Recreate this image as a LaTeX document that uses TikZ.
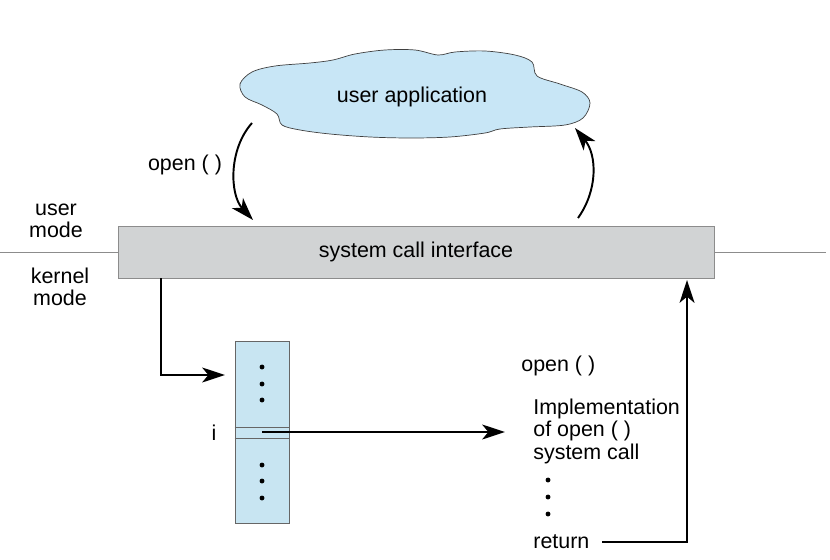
\documentclass[tikz,border=0pt]{standalone}
\usepackage{fontspec}
\setmainfont{Liberation Sans}
\usetikzlibrary{arrows.meta}

\definecolor{cloudblue}{HTML}{C8E6F6}
\definecolor{tableblue}{HTML}{C8E5F2}
\definecolor{boxgray}{HTML}{D1D3D4}
\definecolor{edgegray}{HTML}{8C8C8C}

\tikzset{
  arr/.style={-{Stealth[length=13pt,width=8.5pt,inset=3.5pt]}, line width=1.1pt},
  txt/.style={inner sep=0pt, font=\fontsize{12.2}{12.8}\selectfont},
  dot/.style={circle, fill, inner sep=0pt, minimum size=2.8pt}
}

\begin{document}
\begin{tikzpicture}[x=0.02cm, y=-0.02cm]
\useasboundingbox (0,0) rectangle (830,560);
% user side
\draw[black!75, fill=cloudblue] plot[smooth cycle, tension=0.55] coordinates {
  (240,84) (252,72) (275,66) (310,63) (333,60) (355,54) (385,50) (415,50)
  (438,55) (455,52) (485,51) (515,55) (532,62) (537,76) (560,84) (582,92)
  (590,103) (583,118) (565,125) (530,127) (500,129) (485,133) (450,137)
  (410,138) (370,137) (330,134) (300,130) (282,125) (277,114) (262,105)
  (245,97)};
\node[txt] (app) at (412,97) {user application};
\node[draw=edgegray, fill=boxgray, minimum width=11.92cm, minimum height=1.04cm, txt]
  (sci) at (416,252) {system call interface};
\coordinate (ml) at (0,252);
\coordinate (mr) at (826,252);
\draw[edgegray] (ml) -- (sci.west);
\draw[edgegray] (sci.east) -- (mr);
\node[txt, align=center] (um) at (56,221) {user\\mode};
\node[txt, align=center] (km) at (60,287) {kernel\\mode};
\node[txt] (op1) at (185,165) {open ( )};
\coordinate (c1) at (252,123);
\coordinate (c2) at (253,220);
\coordinate (c3) at (578,218);
\coordinate (c4) at (575,128);
\draw[arr] (c1) .. controls (228,150) and (230,195) .. (c2);
\draw[arr] (c3) .. controls (598,190) and (597,155) .. (c4);
% kernel side
\node[draw=black!60, fill=tableblue, minimum width=1.08cm, minimum height=3.64cm,
  inner sep=0pt] (tab) at (262,432) {};
\draw[black!60] (tab.west |- 0,427) -- (tab.east |- 0,427);
\draw[black!60] (tab.west |- 0,438) -- (tab.east |- 0,438);
\foreach \y in {367,384,400,465,481,498}
  \node[dot] at (262,\y) {};
\node[txt] (idx) at (214,433) {i};
\coordinate (s1) at (161,278);
\coordinate (t1) at (225,375);
\draw[arr] (s1) |- (t1);
\coordinate (t2) at (505,432);
\draw[arr] (tab.center) -- (t2);
\node[txt, anchor=west] (op2) at (521,366) {open ( )};
\node[txt, anchor=west, align=left] (impl) at (533,431) {Implementation\\of open ( )\\system call};
\foreach \y in {480,497,514}
  \node[dot] at (548,\y) {};
\node[txt, anchor=west] (ret) at (533,542) {return};
\coordinate (up) at (687,280);
\draw[arr] ([xshift=7pt]ret.east) -| (up);
\end{tikzpicture}
\end{document}
